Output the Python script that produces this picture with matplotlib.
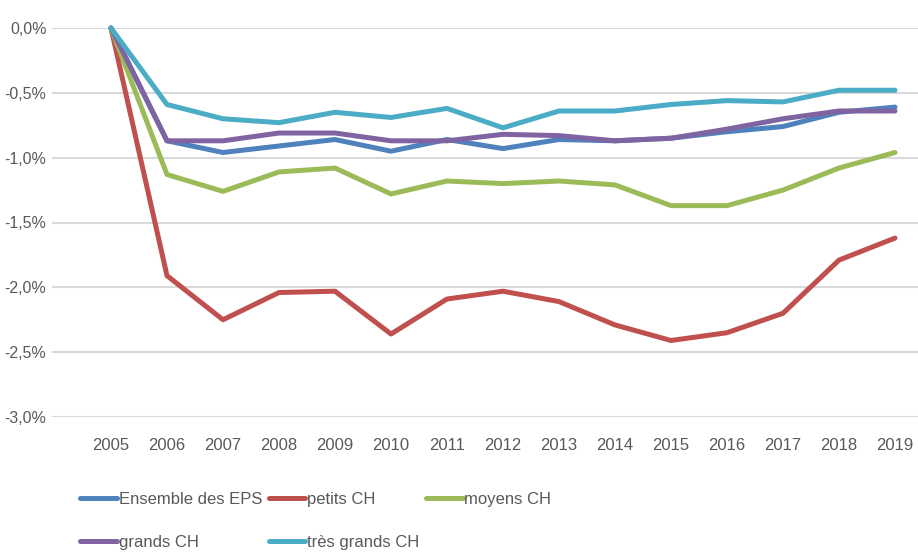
import matplotlib
matplotlib.use("Agg")
import matplotlib.pyplot as plt
from matplotlib.ticker import FuncFormatter

annees = list(range(2005, 2020))

ensemble = [0, -0.87, -0.96, -0.91, -0.86, -0.95, -0.86, -0.93, -0.86, -0.87, -0.85, -0.80, -0.76, -0.65, -0.61]
petits = [0, -1.91, -2.25, -2.04, -2.03, -2.36, -2.09, -2.03, -2.11, -2.29, -2.41, -2.35, -2.20, -1.79, -1.62]
moyens = [0, -1.13, -1.26, -1.11, -1.08, -1.28, -1.18, -1.20, -1.18, -1.21, -1.37, -1.37, -1.25, -1.08, -0.96]
grands = [0, -0.87, -0.87, -0.81, -0.81, -0.87, -0.87, -0.82, -0.83, -0.87, -0.85, -0.78, -0.70, -0.64, -0.64]
tres_grands = [0, -0.59, -0.70, -0.73, -0.65, -0.69, -0.62, -0.77, -0.64, -0.64, -0.59, -0.56, -0.57, -0.48, -0.48]

noms = ["Ensemble des EPS", "petits CH", "moyens CH", "grands CH", "très grands CH"]
couleurs = ["#4F81BD", "#C0504D", "#9BBB59", "#8064A2", "#4BACC6"]
series = [ensemble, petits, moyens, grands, tres_grands]

plt.rcParams['font.family'] = ['Liberation Sans', 'DejaVu Sans']
gris = "#595959"

fig = plt.figure(figsize=(9.18, 5.52), dpi=100)
ax = fig.add_axes([52 / 918, 1 - 417 / 552, 866 / 918, 389 / 552])

lignes = []
for vals, nom, c in zip(series, noms, couleurs):
    l, = ax.plot(annees, vals, color=c, lw=3.6, label=nom, clip_on=False,
                 solid_capstyle='round', solid_joinstyle='round')
    lignes.append(l)

ax.set_ylim(-3.0, 0.0)
ax.set_xlim(2005 - 59 / 56, 2019 + 23 / 56)
ax.set_yticks([0, -0.5, -1.0, -1.5, -2.0, -2.5, -3.0])
ax.yaxis.set_major_formatter(FuncFormatter(lambda v, p: f"{v:.1f}%".replace(".", ",")))
ax.set_xticks(annees)
ax.grid(axis='y', color="#D9D9D9", lw=1.5)
ax.set_axisbelow(True)
for s in ax.spines.values():
    s.set_visible(False)
ax.tick_params(length=0, labelsize=12, labelcolor=gris)
ax.tick_params(axis='x', pad=15)
ax.tick_params(axis='y', pad=4, labelsize=11.5)

ordre = [0, 3, 1, 4, 2]
ax.legend([lignes[i] for i in ordre], [noms[i] for i in ordre], ncol=3,
          loc='upper left', bbox_to_anchor=(0.025, -0.175), frameon=False,
          fontsize=12, labelcolor=gris, handlelength=2.2, handletextpad=0.1,
          columnspacing=0.4, labelspacing=1.7, borderaxespad=0)

fig.savefig("out.png", dpi=100)
